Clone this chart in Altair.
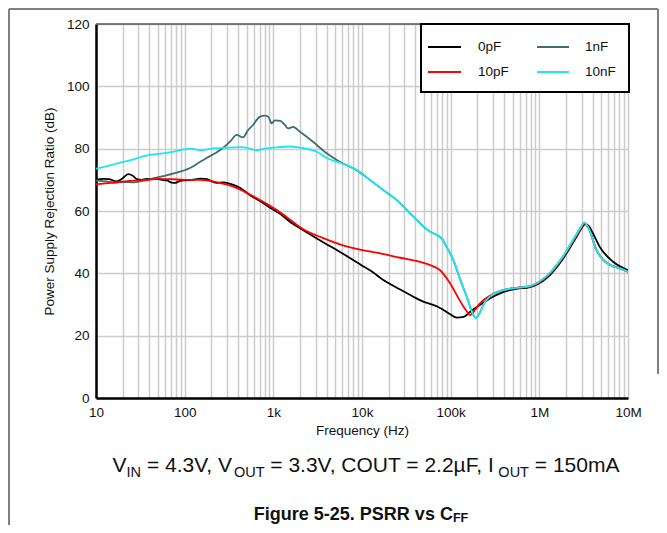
import altair as alt
import pandas as pd

# ---------------- data ----------------
black_f = [10, 12, 14, 17, 20, 23, 26, 29, 33, 37, 48, 55, 63, 70, 78, 86, 96, 120, 150, 180, 200,
           230, 270, 320, 400, 550, 700, 900, 1200, 1550, 2000, 3650, 6100, 10400, 13400, 16000,
           27000, 38000, 45000, 76000, 100000, 117000, 140000, 165000, 213000, 280000, 390000,
           550000, 785000, 1200000, 1860000, 2600000, 3000000, 3300000, 3600000, 4000000,
           4800000, 6800000, 10000000]
black_v = [70.0, 70.3, 70.2, 69.5, 70.5, 71.8, 71.3, 70.2, 70.0, 70.3, 70.3, 70.0, 69.8, 69.2, 69.0,
           69.5, 69.8, 70.0, 70.4, 70.2, 69.6, 69.0, 69.2, 68.8, 67.8, 65.0, 63.3, 61.2, 59.0, 56.5,
           54.5, 50.0, 46.3, 42.2, 40.3, 38.6, 34.8, 32.5, 31.4, 28.9, 26.8, 25.8, 26.0, 27.6, 29.8,
           32.0, 34.0, 35.0, 35.6, 38.4, 44.8, 51.5, 54.5, 55.8, 55.2, 53.0, 48.5, 43.7, 41.0]

red_f = [10, 15, 20, 30, 40, 48, 70, 100, 150, 177, 250, 355, 450, 550, 700, 900, 1200, 1550,
         2000, 3650, 6100, 13400, 16000, 27000, 45000, 58000, 76000, 98000, 126000, 150000,
         165000, 190000, 213000, 277000, 390000, 550000, 785000, 1200000, 1860000, 2600000,
         3000000, 3200000, 3600000, 4400000, 5500000, 6300000, 8100000, 10000000]
red_v = [68.6, 69.0, 69.4, 69.8, 70.0, 70.3, 70.2, 70.0, 70.0, 69.8, 69.0, 67.8, 66.5, 65.2, 63.6,
         61.8, 59.5, 57.2, 54.8, 51.3, 49.0, 46.8, 46.4, 45.0, 43.7, 42.7, 41.0, 36.9, 31.4, 28.0,
         26.6, 28.4, 30.3, 32.8, 34.6, 35.3, 35.8, 38.9, 45.3, 52.0, 54.8, 56.0, 54.5, 47.5, 43.8,
         42.7, 41.6, 40.5]

cyan_f = [10, 13, 16, 20, 26, 37, 50, 74, 115, 150, 200, 300, 450, 650, 800, 1000, 1550, 2000,
          3100, 4000, 5600, 6700, 9400, 12000, 17400, 24000, 38000, 58000, 70000, 79000, 90000,
          107000, 130000, 152000, 175000, 191000, 210000, 240000, 277000, 390000, 550000, 785000,
          1200000, 1860000, 2600000, 3000000, 3200000, 3600000, 4400000, 5500000, 6300000,
          8100000, 10000000]
cyan_v = [73.6, 74.3, 75.0, 75.7, 76.5, 77.8, 78.3, 79.0, 80.0, 79.5, 80.0, 80.3, 80.5, 79.5, 80.0,
          80.3, 80.7, 80.3, 79.0, 77.0, 75.5, 74.7, 72.6, 70.2, 66.7, 63.8, 58.2, 53.4, 52.3, 51.2,
          48.5, 44.3, 37.5, 32.5, 27.5, 25.7, 27.0, 30.5, 32.5, 34.6, 35.3, 35.9, 39.0, 45.5, 52.3,
          55.2, 56.3, 54.5, 47.5, 43.8, 42.7, 41.6, 40.5]

nf1_f = [10, 13, 17, 20, 26, 35, 48, 74, 115, 150, 177, 220, 270, 330, 386, 455, 520, 590, 700,
         800, 880, 960, 1040, 1200, 1350, 1470, 1670, 2000, 2800, 4000, 5600, 8700, 12000, 17400,
         24000, 38000, 58000, 70000, 79000, 90000, 107000, 130000, 152000, 175000, 191000, 210000,
         240000, 277000, 390000, 550000, 785000, 1200000, 1860000, 2600000, 3000000, 3200000,
         3600000, 4400000, 5500000, 6300000, 8100000, 10000000]
nf1_v = [69.8, 69.5, 69.2, 69.3, 69.2, 69.8, 70.7, 72.0, 73.8, 75.8, 77.0, 78.5, 80.2, 82.5, 84.4,
         83.6, 86.0, 87.6, 90.2, 90.6, 90.2, 88.1, 89.1, 88.9, 87.6, 86.5, 87.0, 85.4, 82.2, 78.5,
         75.8, 73.1, 70.2, 66.7, 63.8, 58.2, 53.4, 52.3, 51.2, 48.5, 44.3, 37.5, 32.5, 27.5, 25.7,
         27.0, 30.5, 32.5, 34.6, 35.3, 35.9, 39.0, 45.5, 52.3, 55.2, 56.3, 54.5, 47.5, 43.8, 42.7,
         41.6, 40.5]

series_names = ["0pF", "1nF", "10pF", "10nF"]
series_colors = ["#000000", "#3c6e6e", "#ff0000", "#1ae8f0"]

decade_vals = [10, 100, 1000, 10000, 100000, 1000000, 10000000]
decade_labels = ["10", "100", "1k", "10k", "100k", "1M", "10M"]
y_ticks = [0, 20, 40, 60, 80, 100, 120]

subtitle_parts = [("V", False), ("IN", True), (" = 4.3V, V", False), ("OUT", True),
                  (" = 3.3V, COUT = 2.2\u00b5F, I", False), ("OUT", True), (" = 150mA", False)]
caption_parts = [("Figure 5-25. PSRR vs C", False), ("FF", True)]

# ---------------- layout ----------------
W, H = 532, 374
PAD_L, PAD_T, PAD_R, PAD_B = 88, 16, 31, 127
FONT = "Liberation Sans"

tick_vals = [m * 10 ** e for e in range(1, 7) for m in range(1, 10)] + [10000000]
label_expr = " : ".join(f"datum.value == {v} ? '{l}'" for v, l in zip(decade_vals, decade_labels)) + " : ''"

X = alt.X("freq:Q", scale=alt.Scale(type="log", domain=[10, 10000000]),
          axis=alt.Axis(values=tick_vals, labelExpr=label_expr, ticks=False, labelOverlap=False,
                        labelFlush=False, title="Frequency (Hz)", titleFontWeight="normal",
                        titleFontSize=13.5, titlePadding=5, labelFontSize=13.5, labelPadding=7,
                        domainColor="#000000", domainWidth=2.5, gridColor="#cccccc", gridWidth=1.5,
                        labelColor="#111111", titleColor="#111111", labelFont=FONT, titleFont=FONT))
Y = alt.Y("psrr:Q", scale=alt.Scale(domain=[0, 120]),
          axis=alt.Axis(values=y_ticks, ticks=False, title="Power Supply Rejection Ratio (dB)",
                        titleFontWeight="normal", titleFontSize=13.5, titlePadding=10,
                        labelFontSize=13.5, labelPadding=7, domainColor="#000000", domainWidth=2.5,
                        gridColor="#cccccc", gridWidth=1.5, labelColor="#111111",
                        titleColor="#111111", labelFont=FONT, titleFont=FONT))

data_sets = {"0pF": (black_f, black_v), "1nF": (nf1_f, nf1_v), "10pF": (red_f, red_v),
             "10nF": (cyan_f, cyan_v)}
color_of = dict(zip(series_names, series_colors))

layers = []
for name in ["0pF", "1nF", "10pF", "10nF"]:
    f, v = data_sets[name]
    df = pd.DataFrame({"freq": f, "psrr": v})
    layers.append(alt.Chart(df).mark_line(color=color_of[name], strokeWidth=1.8,
                                          interpolate="monotone", clip=True).encode(x=X, y=Y))

one = pd.DataFrame({"a": [0]})

# top border of the plot
layers.append(alt.Chart(one).mark_rule(color="#555555", strokeWidth=1.5).encode(
    x=alt.value(0), x2=alt.value(W), y=alt.value(0)))

# legend box
LX0, LX1, LY0, LY1 = 325, 533, 0, 68
layers.append(alt.Chart(one).mark_rect(fill="white", stroke="black", strokeWidth=2).encode(
    x=alt.value(LX0), x2=alt.value(LX1), y=alt.value(LY0), y2=alt.value(LY1)))
legend_pos = [(332, 365, 382, 23), (441, 473, 489, 23), (332, 365, 382, 48), (441, 473, 489, 48)]
for name, (sx0, sx1, tx, ty) in zip(series_names, legend_pos):
    layers.append(alt.Chart(one).mark_rule(color=color_of[name], strokeWidth=2).encode(
        x=alt.value(sx0), x2=alt.value(sx1), y=alt.value(ty)))
    layers.append(alt.Chart(one).mark_text(align="left", baseline="middle", fontSize=13.5,
                                           font=FONT, color="#111111").encode(
        x=alt.value(tx), y=alt.value(ty), text=alt.value(name)))

# width tables (Arial / Liberation Sans, per 1000 em)
REG = {" ": 278, "=": 584, ".": 278, ",": 278, "V": 667, "I": 278, "N": 722, "O": 778, "U": 722,
       "T": 611, "C": 722, "F": 611, "\u00b5": 576, "m": 833, "A": 667}
BOLD = {"F": 611, "i": 278, "g": 611, "u": 611, "r": 389, "e": 556, " ": 278, "-": 333, ".": 278,
        "P": 667, "S": 667, "R": 722, "v": 556, "s": 556, "C": 722}


def text_width(s, size, table):
    return sum(table.get(ch, 556) for ch in s) * size / 1000.0


def add_parts(parts, size, sub_size, table, cx, base_y, weight, sub_shift):
    total = sum(text_width(t, sub_size if sub else size, table) for t, sub in parts)
    x = cx - total / 2
    for t, sub in parts:
        fs = sub_size if sub else size
        yy = base_y + (sub_shift if sub else 0)
        lead = len(t) - len(t.lstrip(" "))
        shown = t.strip(" ")
        layers.append(alt.Chart(one).mark_text(align="left", baseline="alphabetic", fontSize=fs,
                                               font=FONT, fontWeight=weight,
                                               color="#111111").encode(
            x=alt.value(x + text_width(" " * lead, fs, table)), y=alt.value(yy),
            text=alt.value(shown)))
        x += text_width(t, fs, table)


add_parts(subtitle_parts, 21, 14.5, REG, 366 - 96, 472 - 24, "normal", 4.5)
add_parts(caption_parts, 18, 12.5, BOLD, 361 - 96, 519.5 - 24, "bold", 2.5)

# outer frame of the figure (gray)
FL, FT = -PAD_L + 1, -PAD_T + 1
FR = W + PAD_R - 1
layers.append(alt.Chart(one).mark_rule(color="#808080", strokeWidth=2).encode(
    x=alt.value(FL), x2=alt.value(FR), y=alt.value(FT)))
layers.append(alt.Chart(one).mark_rule(color="#808080", strokeWidth=2).encode(
    x=alt.value(FL), y=alt.value(FT), y2=alt.value(H + PAD_B)))
layers.append(alt.Chart(one).mark_rule(color="#808080", strokeWidth=2).encode(
    x=alt.value(FR), y=alt.value(FT), y2=alt.value(350)))

chart = alt.layer(*layers).properties(
    width=W, height=H,
    autosize=alt.AutoSizeParams(type="none"),
    padding={"left": PAD_L, "top": PAD_T, "right": PAD_R, "bottom": PAD_B},
    background="white",
).configure_view(stroke=None)

chart.save("out.html", embed_options={"renderer": "svg", "actions": False})
